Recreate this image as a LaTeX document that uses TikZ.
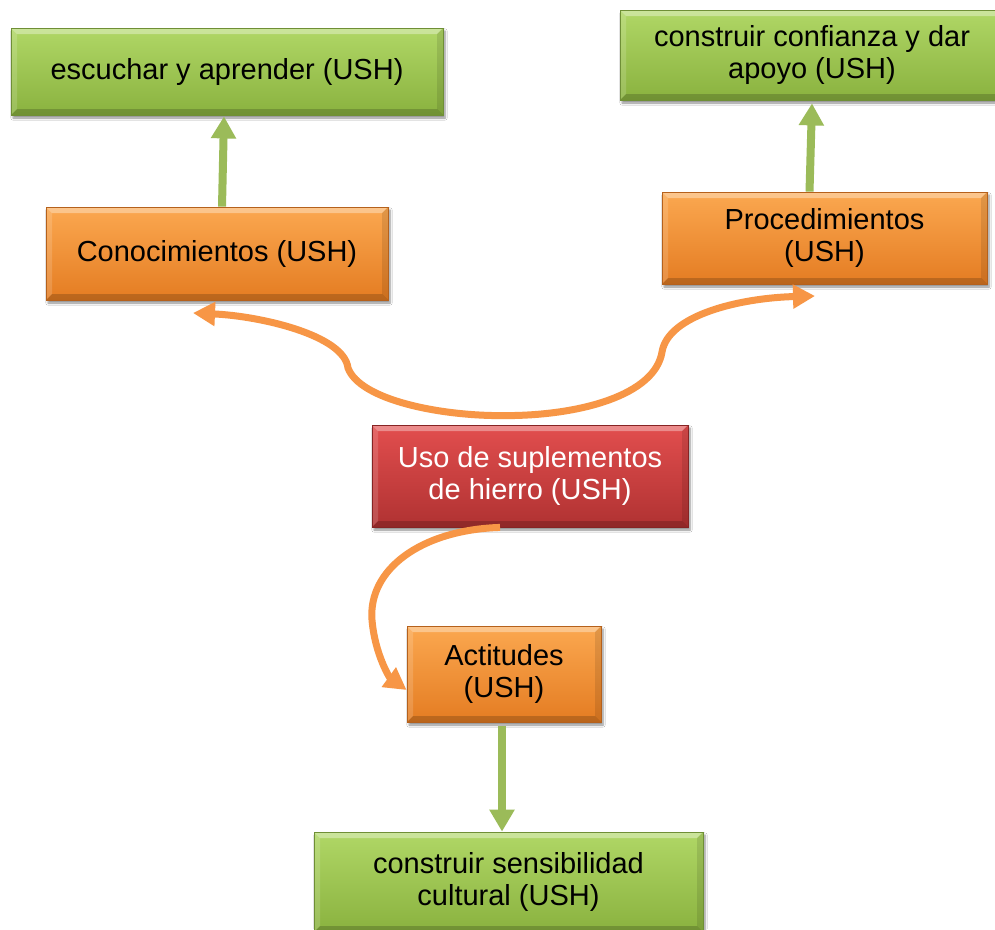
\documentclass[tikz,border=0pt]{standalone}
\usepackage{fontspec}
\setmainfont{Liberation Sans}
\usetikzlibrary{arrows.meta,shadows.blur}

\definecolor{grtop}{HTML}{B0D766}
\definecolor{grbot}{HTML}{8AB23F}
\definecolor{grline}{HTML}{6F8F36}
\definecolor{ortop}{HTML}{FBA850}
\definecolor{orbot}{HTML}{E47C22}
\definecolor{orline}{HTML}{B5611C}
\definecolor{rdtop}{HTML}{E24E4E}
\definecolor{rdbot}{HTML}{B03232}
\definecolor{rdline}{HTML}{862424}
\definecolor{orarrow}{HTML}{F79646}
\definecolor{grarrow}{HTML}{9BBB59}

\tikzset{
  bevelbox/.style={
    rectangle, inner sep=0pt, align=center,
    font=\fontsize{29}{32}\selectfont,
    blur shadow={shadow xshift=2pt, shadow yshift=-3pt, shadow blur steps=6, shadow opacity=45},
    path picture={
      \fill[white,opacity=0.35] (path picture bounding box.north west) -- (path picture bounding box.north east)
        -- ([shift={(-6pt,-6pt)}]path picture bounding box.north east)
        -- ([shift={(6pt,-6pt)}]path picture bounding box.north west) -- cycle;
      \fill[white,opacity=0.15] (path picture bounding box.north west) -- (path picture bounding box.south west)
        -- ([shift={(6pt,6pt)}]path picture bounding box.south west)
        -- ([shift={(6pt,-6pt)}]path picture bounding box.north west) -- cycle;
      \fill[black,opacity=0.18] (path picture bounding box.south west) -- (path picture bounding box.south east)
        -- ([shift={(-6pt,6pt)}]path picture bounding box.south east)
        -- ([shift={(6pt,6pt)}]path picture bounding box.south west) -- cycle;
      \fill[black,opacity=0.10] (path picture bounding box.north east) -- (path picture bounding box.south east)
        -- ([shift={(-6pt,6pt)}]path picture bounding box.south east)
        -- ([shift={(-6pt,-6pt)}]path picture bounding box.north east) -- cycle;
    }
  },
  greenbox/.style={bevelbox, top color=grtop, bottom color=grbot, draw=grline, line width=0.8pt, text=black},
  orangebox/.style={bevelbox, top color=ortop, bottom color=orbot, draw=orline, line width=0.8pt, text=black},
  redbox/.style={bevelbox, top color=rdtop, bottom color=rdbot, draw=rdline, line width=0.8pt, text=white},
  orangelink/.style={draw=orarrow, line width=7pt, -{Triangle[length=22pt,width=23pt]}},
  greenlink/.style={draw=grarrow, line width=8pt, -{Triangle[length=22pt,width=24pt]}},
}

\begin{document}
\begin{tikzpicture}[x=1pt,y=-1pt]
  \useasboundingbox (0,0) rectangle (995,929);
  \fill[white] (0,0) rectangle (995,929);

  % outcome boxes
  \node[greenbox, minimum width=432pt, minimum height=87pt] (esc) at (227,71.5) {escuchar y aprender (USH)};
  \node[greenbox, minimum width=384pt, minimum height=90pt] (conf) at (812,55) {construir confianza y dar\\apoyo (USH)};
  \node[greenbox, minimum width=389pt, minimum height=100pt] (sens) at (508.5,882) {construir sensibilidad\\cultural (USH)};

  % dimension boxes
  \node[orangebox, minimum width=342pt, minimum height=93pt] (con) at (217,253.5) {Conocimientos (USH)};
  \node[orangebox, minimum width=325pt, minimum height=92pt] (proc) at (824.5,238) {Procedimientos\\(USH)};
  \node[orangebox, minimum width=194pt, minimum height=96pt] (act) at (504,674) {Actitudes\\(USH)};

  % central topic
  \node[redbox, minimum width=316pt, minimum height=102pt] (ush) at (530,476) {Uso de suplementos\\de hierro (USH)};

  % free ends of the curved connectors
  \coordinate (hub) at ([shift={(-27pt,9pt)}]ush.north);
  \coordinate (conend) at (193,313);
  \coordinate (procend) at (815,296);
  \coordinate (ushout) at ([xshift=-30pt]ush.south);
  \coordinate (actout) at ([shift={(-2pt,-4pt)}]act.south);

  % curved orange connectors
  \draw[orangelink] (hub) .. controls (440,416) and (360,400) .. (348,368)
        .. controls (344,335) and (260,316) .. (conend);
  \draw[orangelink] (hub) .. controls (580,416) and (655,395) .. (662,352)
        .. controls (668,315) and (740,298) .. (procend);
  \draw[orangelink] (ushout) .. controls (420,530) and (368,570) .. (372,620)
        .. controls (375,655) and (390,678) .. ([yshift=-16pt]act.west);

  % straight green connectors
  \draw[greenlink] ([xshift=5pt]con.north) -- ([xshift=-3pt,yshift=-1pt]esc.south);
  \draw[greenlink] ([xshift=-15pt]proc.north) -- ([yshift=-3pt]conf.south);
  \draw[greenlink] (actout) -- (actout |- sens.north);
\end{tikzpicture}
\end{document}
